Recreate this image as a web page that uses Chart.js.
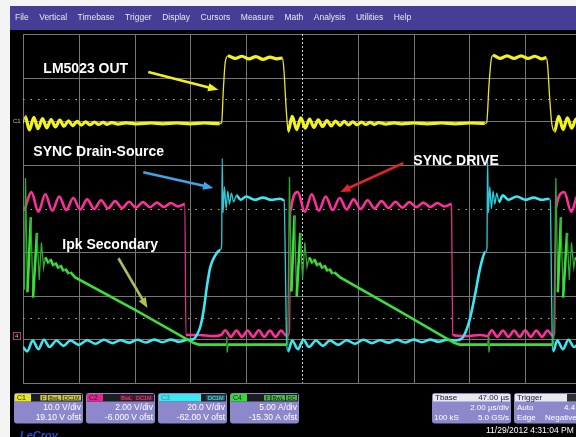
<!DOCTYPE html>
<html>
<head>
<meta charset="utf-8">
<script src="https://cdn.jsdelivr.net/npm/chart.js@4.4.0/dist/chart.umd.min.js"></script>
<style>
  html, body { margin:0; padding:0; background:#000; overflow:hidden; }
  canvas { display:block; }
</style>
</head>
<body>
<canvas id="scope" width="581" height="437"></canvas>
<script>
// time in µs from the left edge of the graticule (2 µs/div, 10 div)
const timeTicks = [0, 2, 4, 6, 8, 10, 12, 14, 16, 18, 20];
const divTicks = [-4, -3, -2, -1, 0, 1, 2, 3, 4];
const dottedDivs = [-2.5, 0, 2.5];

// channel settings, as shown in the boxes under the screen
const chanNames = ['C1', 'C2', 'C3', 'C4'];
const perDiv = [10, 2, 20, 5];
const offsets = [19.10, -6.000, -62.00, -15.30];
const perDivText = ['10.0 V/div', '2.00 V/div', '20.0 V/div', '5.00 A/div'];
const offsetText = ['19.10 V ofst', '-6.000 V ofst', '-62.00 V ofst', '-15.30 A ofst'];

// C1 LM5023 OUT (V)
const c1Points = [
  [0.00, 0.4], [0.08, 2.0], [0.23, -1.1], [0.39, 1.8], [0.54, -0.8], [0.70, 1.5], [0.85, -0.6],
  [1.01, 1.3], [1.16, -0.4], [1.32, 1.15], [1.47, -0.25], [1.63, 1.0], [1.78, -0.1], [1.94, 0.85],
  [2.09, 0.0], [2.25, 0.75], [2.40, 0.1], [2.56, 0.7], [2.71, 0.15], [2.87, 0.65], [3.02, 0.2],
  [3.18, 0.6], [3.40, 0.25], [3.70, 0.55], [4.10, 0.3], [4.60, 0.5],
  [5.0, 0.3], [5.5, 0.5], [6.0, 0.3], [6.5, 0.5], [7.05, 0.35],
  [7.12, 0.6], [7.18, 8.0], [7.25, 14.5], [7.35, 15.9], [7.6, 15.3], [7.85, 15.8], [8.1, 15.2],
  [8.35, 15.7], [8.6, 15.1], [8.85, 15.6], [9.1, 15.2], [9.3, 15.4],
  [9.36, 12.0], [9.42, 5.0], [9.47, 0.5], [9.50, -1.4], [9.65, 2.0], [9.81, -1.0], [9.96, 1.7],
  [10.12, -0.7], [10.27, 1.4], [10.43, -0.5], [10.58, 1.2], [10.74, -0.3], [10.89, 1.05],
  [11.05, -0.15], [11.20, 0.95], [11.36, -0.05], [11.51, 0.85], [11.67, 0.05], [11.82, 0.75],
  [11.98, 0.1], [12.13, 0.7], [12.29, 0.15], [12.44, 0.65], [12.60, 0.2], [12.75, 0.6],
  [13.0, 0.25], [13.3, 0.55], [13.6, 0.3], [14.0, 0.5], [14.5, 0.3], [15.0, 0.5],
  [15.5, 0.3], [16.0, 0.5], [16.55, 0.4],
  [16.62, 0.6], [16.70, 9.0], [16.78, 15.0], [16.85, 16.0], [17.1, 15.3], [17.35, 15.9],
  [17.6, 15.3], [17.85, 15.9], [18.1, 15.3], [18.35, 15.8], [18.6, 15.2], [18.75, 15.5],
  [18.80, 14.0], [18.88, 6.0], [18.95, 0.5], [19.05, -1.4], [19.20, 2.0], [19.36, -1.0],
  [19.51, 1.7], [19.67, -0.7], [19.82, 1.4], [19.98, -0.5]
];

// C2 SYNC DRIVE (V)
const c2Points = [
  [0.05, 5.9], [0.30, 6.75], [0.55, 5.85], [0.80, 6.65], [1.05, 5.9], [1.30, 6.55], [1.55, 5.93],
  [1.80, 6.48], [2.05, 5.96], [2.30, 6.42], [2.55, 5.98], [2.80, 6.38], [3.05, 6.0], [3.30, 6.34],
  [3.55, 6.02], [3.80, 6.31], [4.05, 6.04], [4.30, 6.29], [4.55, 6.06], [4.80, 6.27], [5.05, 6.07],
  [5.30, 6.25], [5.55, 6.09], [5.80, 6.2], [5.84, 0.2],
  [6.3, 0.2], [6.8, 0.15], [7.1, 0.2], [7.25, 0.42], [7.45, 0.12], [7.65, 0.4], [7.85, 0.12],
  [8.05, 0.4], [8.25, 0.12], [8.45, 0.42], [8.65, 0.12], [8.85, 0.4], [9.05, 0.12], [9.25, 0.4],
  [9.45, 0.15], [9.55, 0.3],
  [9.60, 5.9], [9.85, 6.75], [10.10, 5.85], [10.35, 6.65], [10.60, 5.9], [10.85, 6.55],
  [11.10, 5.93], [11.35, 6.48], [11.60, 5.96], [11.85, 6.42], [12.10, 5.98], [12.35, 6.38],
  [12.60, 6.0], [12.85, 6.34], [13.10, 6.02], [13.35, 6.31], [13.60, 6.04], [13.85, 6.29],
  [14.10, 6.06], [14.35, 6.27], [14.60, 6.07], [14.85, 6.25], [15.10, 6.09], [15.36, 6.2],
  [15.40, 0.2], [15.9, 0.15], [16.4, 0.2], [16.65, 0.15], [16.80, 0.42], [17.0, 0.12], [17.2, 0.4],
  [17.4, 0.12], [17.6, 0.4], [17.8, 0.12], [18.0, 0.42], [18.2, 0.12], [18.4, 0.4], [18.6, 0.12],
  [18.8, 0.4], [19.0, 0.15], [19.06, 0.3],
  [19.10, 6.0], [19.40, 6.75], [19.65, 5.85], [19.90, 6.65], [20.0, 6.4]
];

// C3 SYNC Drain-Source (V)
const c3Points = [
  [0.00, -1.5], [0.15, -3.5], [0.35, 1.5], [0.55, -2.5], [0.75, 1.8], [0.95, -1.5], [1.2, 1.5],
  [1.45, -1.0], [1.7, 1.5], [2.0, -0.5], [2.3, 1.6], [2.6, 0.0], [2.9, 1.8], [3.2, 0.3], [3.5, 1.6],
  [3.8, 0.5], [4.1, 1.8], [4.4, 0.6], [4.7, 1.9], [5.0, 0.7], [5.3, 1.9], [5.6, 0.9], [5.9, 1.8],
  [6.10, 2.0], [6.25, 4.5], [6.36, 8.0], [6.47, 15.0], [6.60, 27.0], [6.71, 35.0], [6.89, 40.5],
  [7.07, 43.0], [7.12, 45.0], [7.14, 85.0], [7.17, 60.0], [7.22, 72.0], [7.28, 62.0], [7.34, 70.0],
  [7.40, 64.0], [7.47, 69.0], [7.55, 65.0], [7.65, 68.0], [7.8, 66.0], [8.0, 67.5], [8.3, 66.0],
  [8.6, 67.0], [8.9, 66.0], [9.2, 66.5], [9.36, 65.5], [9.40, 40.0], [9.45, 0.0],
  [9.50, -3.5], [9.65, 1.5], [9.85, -2.5], [10.05, 1.8], [10.25, -1.5], [10.5, 1.5], [10.75, -1.0],
  [11.0, 1.5], [11.3, -0.5], [11.6, 1.6], [11.9, 0.0], [12.2, 1.8], [12.5, 0.3], [12.8, 1.6],
  [13.1, 0.5], [13.4, 1.8], [13.7, 0.6], [14.0, 1.9], [14.3, 0.7], [14.6, 1.9], [14.9, 0.9],
  [15.2, 1.8], [15.5, 1.5], [15.74, 2.5], [15.90, 6.5], [16.03, 12.0], [16.21, 23.0], [16.39, 35.0],
  [16.57, 42.0], [16.63, 44.0], [16.65, 85.0], [16.68, 60.0], [16.73, 72.0], [16.79, 62.0],
  [16.85, 70.0], [16.91, 64.0], [16.98, 69.0], [17.06, 65.0], [17.2, 68.0], [17.4, 66.0],
  [17.7, 67.5], [18.0, 66.0], [18.3, 67.0], [18.6, 66.0], [18.85, 66.5], [18.90, 65.5],
  [18.93, 40.0], [18.97, 0.0], [19.0, -3.5], [19.15, 1.5], [19.35, -2.5], [19.55, 1.8],
  [19.75, -1.5], [20.0, 1.5]
];

// C4 Ipk Secondary (A)
const c4Points = [
  [0.05, 6.0], [0.09, 18.8], [0.16, 5.7], [0.28, 14.3], [0.36, 5.1], [0.50, 12.5], [0.58, 7.1],
  [0.66, 11.4], [0.74, 8.5], [0.80, 9.7], [0.92, 9.0], [0.98, 9.5], [1.10, 8.7], [1.16, 9.1],
  [1.28, 8.4], [1.34, 8.8], [1.46, 8.1], [1.52, 8.4], [1.64, 7.8], [1.70, 8.0], [1.87, 7.4],
  [4.0, 3.7], [6.10, -0.1], [6.3, -0.3], [7.28, -0.3], [7.30, 0.6], [7.32, -1.2], [7.35, -0.3],
  [9.44, -0.3], [9.49, -0.3], [9.55, 18.9], [9.62, 5.8], [9.73, 14.5], [9.81, 5.2], [9.94, 12.5],
  [10.02, 7.2], [10.10, 11.4], [10.18, 8.6], [10.26, 9.7], [10.38, 9.0], [10.44, 9.5], [10.56, 8.7],
  [10.62, 9.1], [10.74, 8.4], [10.80, 8.8], [10.92, 8.1], [10.98, 8.4], [11.10, 7.8], [11.16, 8.0],
  [11.37, 7.4], [13.4, 3.7], [15.45, -0.1], [15.65, -0.3], [16.66, -0.3], [16.68, 0.6],
  [16.70, -1.2], [16.73, -0.3], [18.97, -0.3], [19.02, -0.3], [19.10, 18.8], [19.17, 5.7],
  [19.28, 14.3], [19.36, 5.1], [19.50, 12.5], [19.58, 7.1], [19.66, 11.4], [19.74, 8.5],
  [19.80, 9.7], [19.92, 9.0], [20.0, 9.4]
];

// callouts, placed in (µs, screen div) through the hidden 'div' scale
const labelTexts = ['LM5023 OUT', 'SYNC Drain-Source', 'SYNC DRIVE', 'Ipk Secondary'];
const labelAt = [[0.73, 3.2], [0.37, 1.29], [13.99, 1.09], [1.41, -0.84]];
const arrowFrom = [[4.49, 3.13], [4.31, 0.83], [13.63, 1.04], [3.42, -1.14]];
const arrowTo = [[7.0, 2.72], [6.82, 0.47], [11.37, 0.38], [4.46, -2.28]];
const arrowColors = ['#f0f020', '#3ea4e6', '#e3242a', '#a9c25a'];

const menuItems = ['File', 'Vertical', 'Timebase', 'Trigger', 'Display', 'Cursors', 'Measure', 'Math', 'Analysis', 'Utilities', 'Help'];

const traceColors = ['#f2f21c', '#ff2e9c', '#3ee6f2', '#3ede3a'];
const thinColors = ['#e6e630', '#e0308c', '#30c8d8', '#2fa82f'];

function toXY(arr) { return arr.map(p => ({ x: p[0], y: p[1] })); }

function thinWhenSteep(i, w) {
  return {
    borderWidth: ctx => Math.abs(ctx.p1.x - ctx.p0.x) < 3 ? 1.3 : w,
    borderColor: ctx => Math.abs(ctx.p1.x - ctx.p0.x) < 3 ? thinColors[i] : traceColors[i]
  };
}

const yScales = {};
chanNames.forEach((n, i) => {
  yScales['y' + (i + 1)] = {
    type: 'linear', axis: 'y', position: 'left', display: false,
    min: -offsets[i] - 4 * perDiv[i], max: -offsets[i] + 4 * perDiv[i]
  };
});
yScales.div = { type: 'linear', axis: 'y', position: 'left', display: false, min: -4, max: 4 };

const scopePlugin = {
  id: 'scope',
  beforeDraw(chart) {
    const c = chart.ctx, a = chart.chartArea;
    const xs = chart.scales.x, ds = chart.scales.div;
    c.save();
    c.fillStyle = '#000';
    c.fillRect(0, 0, chart.width, chart.height);
    c.fillStyle = '#f4f4f4';
    c.fillRect(0, 0, chart.width, 6);
    c.fillRect(0, 0, 10, chart.height);
    // menu bar
    c.fillStyle = '#463e96';
    c.fillRect(10, 6, chart.width, 24);
    c.font = '8.5px "Liberation Sans", Arial, sans-serif';
    c.fillStyle = '#e6e6f2';
    c.textBaseline = 'middle';
    let mx = 15;
    menuItems.forEach(m => { c.fillText(m, mx, 18); mx += c.measureText(m).width + 10.5; });
    // graticule
    c.strokeStyle = '#767676';
    c.lineWidth = 1;
    timeTicks.forEach(t => {
      if (t === 10) return;
      const px = Math.round(xs.getPixelForValue(t)) + 0.5;
      c.beginPath(); c.moveTo(px, a.top); c.lineTo(px, a.bottom); c.stroke();
    });
    divTicks.forEach(d => {
      if (d === 0) return;
      const py = Math.round(ds.getPixelForValue(d)) + 0.5;
      c.beginPath(); c.moveTo(a.left, py); c.lineTo(a.right, py); c.stroke();
    });
    c.strokeStyle = '#b4b4b4';
    c.setLineDash([1.5, 6]);
    dottedDivs.forEach(d => {
      const py = Math.round(ds.getPixelForValue(d)) + 0.5;
      c.beginPath(); c.moveTo(a.left, py); c.lineTo(a.right, py); c.stroke();
    });
    c.strokeStyle = '#d0d0d0';
    c.setLineDash([2, 2]);
    const cx = Math.round(xs.getPixelForValue(10)) + 0.5;
    c.beginPath(); c.moveTo(cx, a.top); c.lineTo(cx, a.bottom); c.stroke();
    c.setLineDash([]);
    // channel markers at the left
    c.font = '6px "Liberation Sans", Arial, sans-serif';
    c.fillStyle = '#c8c870';
    c.fillText('C1', 13, chart.scales.y1.getPixelForValue(0.4) - 2);
    c.strokeStyle = '#c03080';
    c.strokeRect(13.5, 332.5, 7, 7);
    c.fillStyle = '#9adf9a';
    c.fillText('4', 15, 336.5);
    c.restore();
  },
  afterDraw(chart) {
    const c = chart.ctx;
    const xs = chart.scales.x, ds = chart.scales.div;
    c.save();
    // arrows
    arrowFrom.forEach((f, i) => {
      const x0 = xs.getPixelForValue(f[0]), y0 = ds.getPixelForValue(f[1]);
      const x1 = xs.getPixelForValue(arrowTo[i][0]), y1 = ds.getPixelForValue(arrowTo[i][1]);
      const ang = Math.atan2(y1 - y0, x1 - x0), hl = 11;
      c.strokeStyle = arrowColors[i];
      c.fillStyle = arrowColors[i];
      c.lineWidth = 2.6;
      c.beginPath();
      c.moveTo(x0, y0);
      c.lineTo(x1 - Math.cos(ang) * hl * 0.8, y1 - Math.sin(ang) * hl * 0.8);
      c.stroke();
      c.beginPath();
      c.moveTo(x1, y1);
      c.lineTo(x1 - hl * Math.cos(ang - 0.38), y1 - hl * Math.sin(ang - 0.38));
      c.lineTo(x1 - hl * Math.cos(ang + 0.38), y1 - hl * Math.sin(ang + 0.38));
      c.closePath();
      c.fill();
    });
    // callout texts
    c.font = 'bold 14px "Liberation Sans", Arial, sans-serif';
    c.textBaseline = 'middle';
    c.fillStyle = '#ffffff';
    labelTexts.forEach((t, i) => {
      c.fillText(t, xs.getPixelForValue(labelAt[i][0]), ds.getPixelForValue(labelAt[i][1]));
    });

    // channel boxes
    const boxX = [14, 86, 158, 230];
    const labelBg = ['#e8e81c', '#e8228e', '#3ee8f0', '#38d838'];
    const labelW = [16, 16, 42, 16];
    const badgeBg = ['#c8c848', '#5a1632', '#1e5c62', '#48b848'];
    const badgeFg = ['#202000', '#e0508c', '#60e0e8', '#102010'];
    const badges = [['F', 'BwL', 'DC1M'], ['BwL', 'DC1M'], ['DC1M'], ['F', 'BwL', 'DC']];
    const bw = 69;
    chanNames.forEach((n, i) => {
      const x = boxX[i];
      c.fillStyle = '#8d88cc';
      c.beginPath(); c.roundRect(x, 393, bw, 30.5, 3); c.fill();
      c.fillStyle = '#1c1c24';
      c.fillRect(x + 1, 394, bw - 2, 7.5);
      c.fillStyle = labelBg[i];
      c.fillRect(x + 1, 394, labelW[i], 7.5);
      c.font = '7px "Liberation Sans", Arial, sans-serif';
      c.fillStyle = i === 2 ? '#4080a0' : '#202020';
      c.fillText(n, x + 3, 398);
      c.font = '5.5px "Liberation Sans", Arial, sans-serif';
      c.textAlign = 'right';
      let bx = x + bw - 2;
      badges[i].slice().reverse().forEach(b => {
        const w = c.measureText(b).width + 3;
        c.fillStyle = badgeBg[i];
        c.fillRect(bx - w, 395, w, 5.5);
        c.fillStyle = badgeFg[i];
        c.fillText(b, bx - 1.5, 398);
        bx -= w + 1;
      });
      c.font = '8.5px "Liberation Sans", Arial, sans-serif';
      c.fillStyle = '#ffffff';
      c.fillText(perDivText[i], x + bw - 2, 407.5);
      c.fillText(offsetText[i], x + bw - 2, 417.5);
      c.textAlign = 'left';
    });
    // timebase box
    c.fillStyle = '#8d88cc';
    c.beginPath(); c.roundRect(432, 393, 79, 30.5, 3); c.fill();
    c.fillStyle = '#e8e8f0';
    c.fillRect(433, 394, 77, 7.5);
    c.font = '8px "Liberation Sans", Arial, sans-serif';
    c.fillStyle = '#202030';
    c.fillText('Tbase', 435, 398);
    c.textAlign = 'right';
    c.fillText('47.00 µs', 509, 398);
    c.fillStyle = '#ffffff';
    c.fillText('2.00 µs/div', 509, 407.5);
    c.fillText('5.0 GS/s', 509, 417.5);
    c.textAlign = 'left';
    c.fillText('100 kS', 434, 417.5);
    // trigger box
    c.fillStyle = '#8d88cc';
    c.beginPath(); c.roundRect(514, 393, 80, 30.5, 3); c.fill();
    c.fillStyle = '#e8e8f0';
    c.fillRect(515, 394, 78, 7.5);
    c.fillStyle = '#202030';
    c.fillText('Trigger', 517, 398);
    c.fillStyle = '#303030';
    c.fillRect(567, 394, 12, 7.5);
    c.fillStyle = '#ffffff';
    c.fillText('Auto', 517, 407.5);
    c.fillText('Edge', 517, 417.5);
    c.fillText('4.4', 564, 407.5);
    c.fillText('Negative', 545, 417.5);
    // date and logo
    c.font = '8.5px "Liberation Sans", Arial, sans-serif';
    c.fillText('11/29/2012 4:31:04 PM', 486, 431);
    c.font = 'italic bold 11px "Liberation Sans", Arial, sans-serif';
    c.fillStyle = '#2c4ad6';
    c.fillText('LeCroy', 20, 436);
    c.restore();
  }
};

const datasets = [3, 2, 1, 0].map(i => ({
  label: chanNames[i],
  data: toXY([c1Points, c2Points, c3Points, c4Points][i]),
  yAxisID: 'y' + (i + 1),
  borderColor: traceColors[i],
  borderWidth: i === 0 ? 3.2 : 2.6,
  pointRadius: 0,
  cubicInterpolationMode: i === 3 ? 'default' : 'monotone',
  tension: i === 3 ? 0 : 0.4,
  fill: false,
  segment: thinWhenSteep(i, i === 0 ? 3.2 : 2.6)
}));

new Chart(document.getElementById('scope'), {
  type: 'line',
  data: { datasets: datasets },
  options: {
    responsive: false,
    devicePixelRatio: 1,
    animation: false,
    layout: { padding: { left: 23, top: 34, right: 0, bottom: 54 } },
    scales: Object.assign({
      x: { type: 'linear', axis: 'x', position: 'bottom', display: false, min: 0, max: 20 }
    }, yScales),
    plugins: { legend: { display: false }, tooltip: { enabled: false } }
  },
  plugins: [scopePlugin]
});
</script>
</body>
</html>
